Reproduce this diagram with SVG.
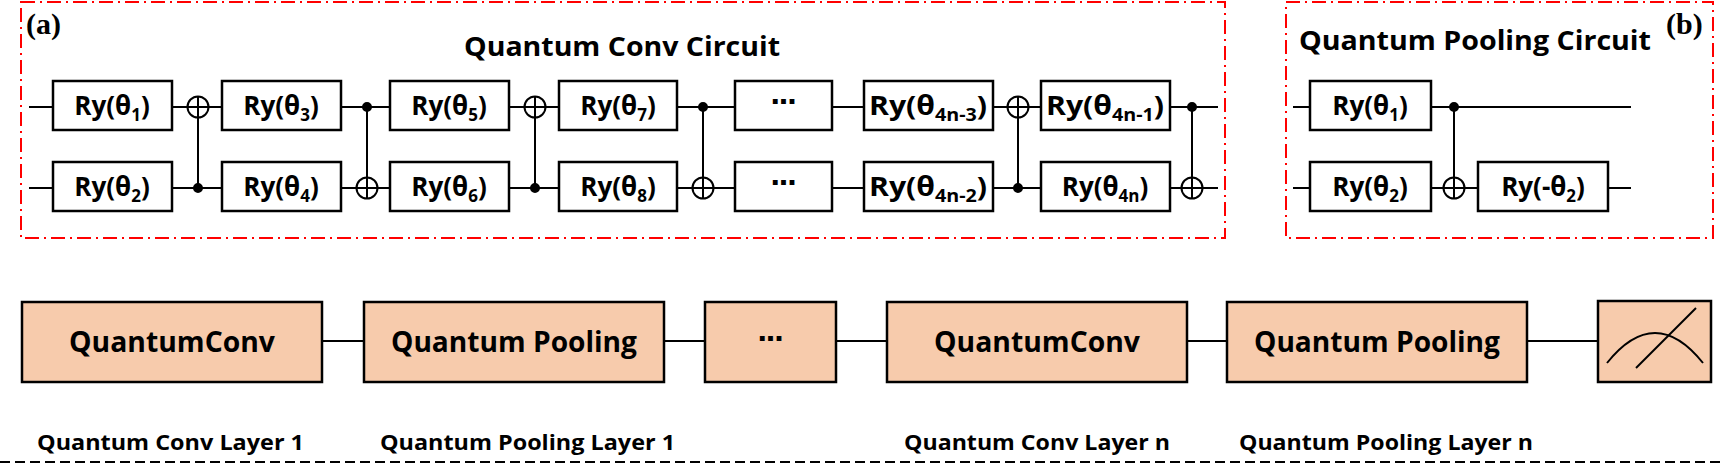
<svg xmlns="http://www.w3.org/2000/svg" width="1725" height="463" viewBox="0 0 1725 463">
<style>
.fr{fill:none;stroke:#f00;stroke-width:2;stroke-dasharray:14 5 2 5}
.w{stroke:#000;stroke-width:2;fill:none}
.g{fill:#fff;stroke:#000;stroke-width:2.5}
.o{fill:#f7cbac;stroke:#000;stroke-width:2.5}
.t{font-family:"Open Sans","Liberation Sans",sans-serif;font-weight:bold;fill:#000}
.gt{font-size:26px;text-anchor:middle}
.s{font-size:17px}
.big{font-size:29px;text-anchor:middle}
.lab{font-size:21px}
.dots{font-family:"Liberation Sans",sans-serif;font-weight:900;font-size:34px;text-anchor:middle;letter-spacing:-3px}
.pl{font-family:"Liberation Serif",serif;font-weight:bold;font-size:30px}
</style>
<rect fill="#fff" width="1725" height="463"/>
<rect class="fr" x="21" y="2" width="1204" height="236"/>
<rect class="fr" x="1286" y="2" width="427" height="236"/>
<text class="pl" x="26" y="34">(a)</text>
<text class="pl" x="1666" y="34">(b)</text>
<text class="t" x="464" y="56" font-size="26" textLength="316" lengthAdjust="spacingAndGlyphs">Quantum Conv  Circuit</text>
<text class="t" x="1299" y="50" font-size="26" textLength="352" lengthAdjust="spacingAndGlyphs">Quantum Pooling  Circuit</text>
<g id="wires" class="w">
<line x1="29" y1="107" x2="1218" y2="107"/>
<line x1="29" y1="188" x2="1218" y2="188"/>
<line x1="1293" y1="107" x2="1631" y2="107"/>
<line x1="1293" y1="188" x2="1631" y2="188"/>
</g>
<g id="connectors" class="w">
<line x1="198" y1="96" x2="198" y2="188"/><circle cx="198" cy="107" r="10.5" fill="none"/><circle cx="198" cy="188" r="4" fill="#000"/>
<line x1="367" y1="107" x2="367" y2="199"/><circle cx="367" cy="188" r="10.5" fill="none"/><circle cx="367" cy="107" r="4" fill="#000"/>
<line x1="535" y1="96" x2="535" y2="188"/><circle cx="535" cy="107" r="10.5" fill="none"/><circle cx="535" cy="188" r="4" fill="#000"/>
<line x1="703" y1="107" x2="703" y2="199"/><circle cx="703" cy="188" r="10.5" fill="none"/><circle cx="703" cy="107" r="4" fill="#000"/>
<line x1="1018" y1="96" x2="1018" y2="188"/><circle cx="1018" cy="107" r="10.5" fill="none"/><circle cx="1018" cy="188" r="4" fill="#000"/>
<line x1="1192" y1="107" x2="1192" y2="199"/><circle cx="1192" cy="188" r="10.5" fill="none"/><circle cx="1192" cy="107" r="4" fill="#000"/>
<line x1="1454" y1="107" x2="1454" y2="199"/><circle cx="1454" cy="188" r="10.5" fill="none"/><circle cx="1454" cy="107" r="4" fill="#000"/>
<line x1="322" y1="341" x2="364" y2="341"/>
<line x1="664" y1="341" x2="705" y2="341"/>
<line x1="836" y1="341" x2="887" y2="341"/>
<line x1="1187" y1="341" x2="1227" y2="341"/>
<line x1="1527" y1="341" x2="1598" y2="341"/>
</g>
<g id="g1"><rect class="g" x="53" y="81" width="119" height="49"/><text class="t gt" x="112" y="115">Ry(θ<tspan class="s" dy="6">1</tspan><tspan dy="-6">)</tspan></text></g>
<g id="g2"><rect class="g" x="53" y="162" width="119" height="49"/><text class="t gt" x="112" y="196">Ry(θ<tspan class="s" dy="6">2</tspan><tspan dy="-6">)</tspan></text></g>
<g id="g3"><rect class="g" x="222" y="81" width="119" height="49"/><text class="t gt" x="281" y="115">Ry(θ<tspan class="s" dy="6">3</tspan><tspan dy="-6">)</tspan></text></g>
<g id="g4"><rect class="g" x="222" y="162" width="119" height="49"/><text class="t gt" x="281" y="196">Ry(θ<tspan class="s" dy="6">4</tspan><tspan dy="-6">)</tspan></text></g>
<g id="g5"><rect class="g" x="390" y="81" width="119" height="49"/><text class="t gt" x="449" y="115">Ry(θ<tspan class="s" dy="6">5</tspan><tspan dy="-6">)</tspan></text></g>
<g id="g6"><rect class="g" x="390" y="162" width="119" height="49"/><text class="t gt" x="449" y="196">Ry(θ<tspan class="s" dy="6">6</tspan><tspan dy="-6">)</tspan></text></g>
<g id="g7"><rect class="g" x="559" y="81" width="118" height="49"/><text class="t gt" x="618" y="115">Ry(θ<tspan class="s" dy="6">7</tspan><tspan dy="-6">)</tspan></text></g>
<g id="g8"><rect class="g" x="559" y="162" width="118" height="49"/><text class="t gt" x="618" y="196">Ry(θ<tspan class="s" dy="6">8</tspan><tspan dy="-6">)</tspan></text></g>
<g id="gd1"><rect class="g" x="735" y="81" width="97" height="49"/><text class="dots" x="783" y="113">···</text></g>
<g id="gd2"><rect class="g" x="735" y="162" width="97" height="49"/><text class="dots" x="783" y="194">···</text></g>
<g id="g9"><rect class="g" x="864" y="81" width="129" height="49"/><text class="t gt" x="928" y="115" textLength="118" lengthAdjust="spacingAndGlyphs">Ry(θ<tspan class="s" dy="6">4n-3</tspan><tspan dy="-6">)</tspan></text></g>
<g id="g10"><rect class="g" x="864" y="162" width="129" height="49"/><text class="t gt" x="928" y="196" textLength="118" lengthAdjust="spacingAndGlyphs">Ry(θ<tspan class="s" dy="6">4n-2</tspan><tspan dy="-6">)</tspan></text></g>
<g id="g11"><rect class="g" x="1041" y="81" width="129" height="49"/><text class="t gt" x="1105" y="115" textLength="118" lengthAdjust="spacingAndGlyphs">Ry(θ<tspan class="s" dy="6">4n-1</tspan><tspan dy="-6">)</tspan></text></g>
<g id="g12"><rect class="g" x="1041" y="162" width="129" height="49"/><text class="t gt" x="1105" y="196">Ry(θ<tspan class="s" dy="6">4n</tspan><tspan dy="-6">)</tspan></text></g>
<g id="p1"><rect class="g" x="1310" y="81" width="121" height="49"/><text class="t gt" x="1370" y="115">Ry(θ<tspan class="s" dy="6">1</tspan><tspan dy="-6">)</tspan></text></g>
<g id="p2"><rect class="g" x="1310" y="162" width="121" height="49"/><text class="t gt" x="1370" y="196">Ry(θ<tspan class="s" dy="6">2</tspan><tspan dy="-6">)</tspan></text></g>
<g id="p3"><rect class="g" x="1478" y="162" width="130" height="49"/><text class="t gt" x="1543" y="196">Ry(-θ<tspan class="s" dy="6">2</tspan><tspan dy="-6">)</tspan></text></g>
<g id="b1"><rect class="o" x="22" y="302" width="300" height="80"/><text class="t big" x="172" y="352" textLength="206" lengthAdjust="spacingAndGlyphs">QuantumConv</text></g>
<g id="b2"><rect class="o" x="364" y="302" width="300" height="80"/><text class="t big" x="514" y="352" textLength="246" lengthAdjust="spacingAndGlyphs">Quantum Pooling</text></g>
<g id="b3"><rect class="o" x="705" y="302" width="131" height="80"/><text class="dots" x="770" y="350">···</text></g>
<g id="b4"><rect class="o" x="887" y="302" width="300" height="80"/><text class="t big" x="1037" y="352" textLength="206" lengthAdjust="spacingAndGlyphs">QuantumConv</text></g>
<g id="b5"><rect class="o" x="1227" y="302" width="300" height="80"/><text class="t big" x="1377" y="352" textLength="246" lengthAdjust="spacingAndGlyphs">Quantum Pooling</text></g>
<g id="meter"><rect class="o" x="1598" y="301" width="113" height="81"/><path class="w" d="M1607 363 Q1655 303 1703 363"/><line class="w" x1="1636" y1="368" x2="1696" y2="308"/></g>
<g id="labels">
<text class="t lab" x="37" y="450" textLength="267" lengthAdjust="spacingAndGlyphs">Quantum Conv Layer 1</text>
<text class="t lab" x="380" y="450" textLength="295" lengthAdjust="spacingAndGlyphs">Quantum Pooling Layer 1</text>
<text class="t lab" x="904" y="450" textLength="266" lengthAdjust="spacingAndGlyphs">Quantum Conv Layer n</text>
<text class="t lab" x="1239" y="450" textLength="294" lengthAdjust="spacingAndGlyphs">Quantum Pooling Layer n</text>
</g>
<line x1="0" y1="462" x2="1725" y2="462" stroke="#000" stroke-width="2" stroke-dasharray="10 5"/>
</svg>
